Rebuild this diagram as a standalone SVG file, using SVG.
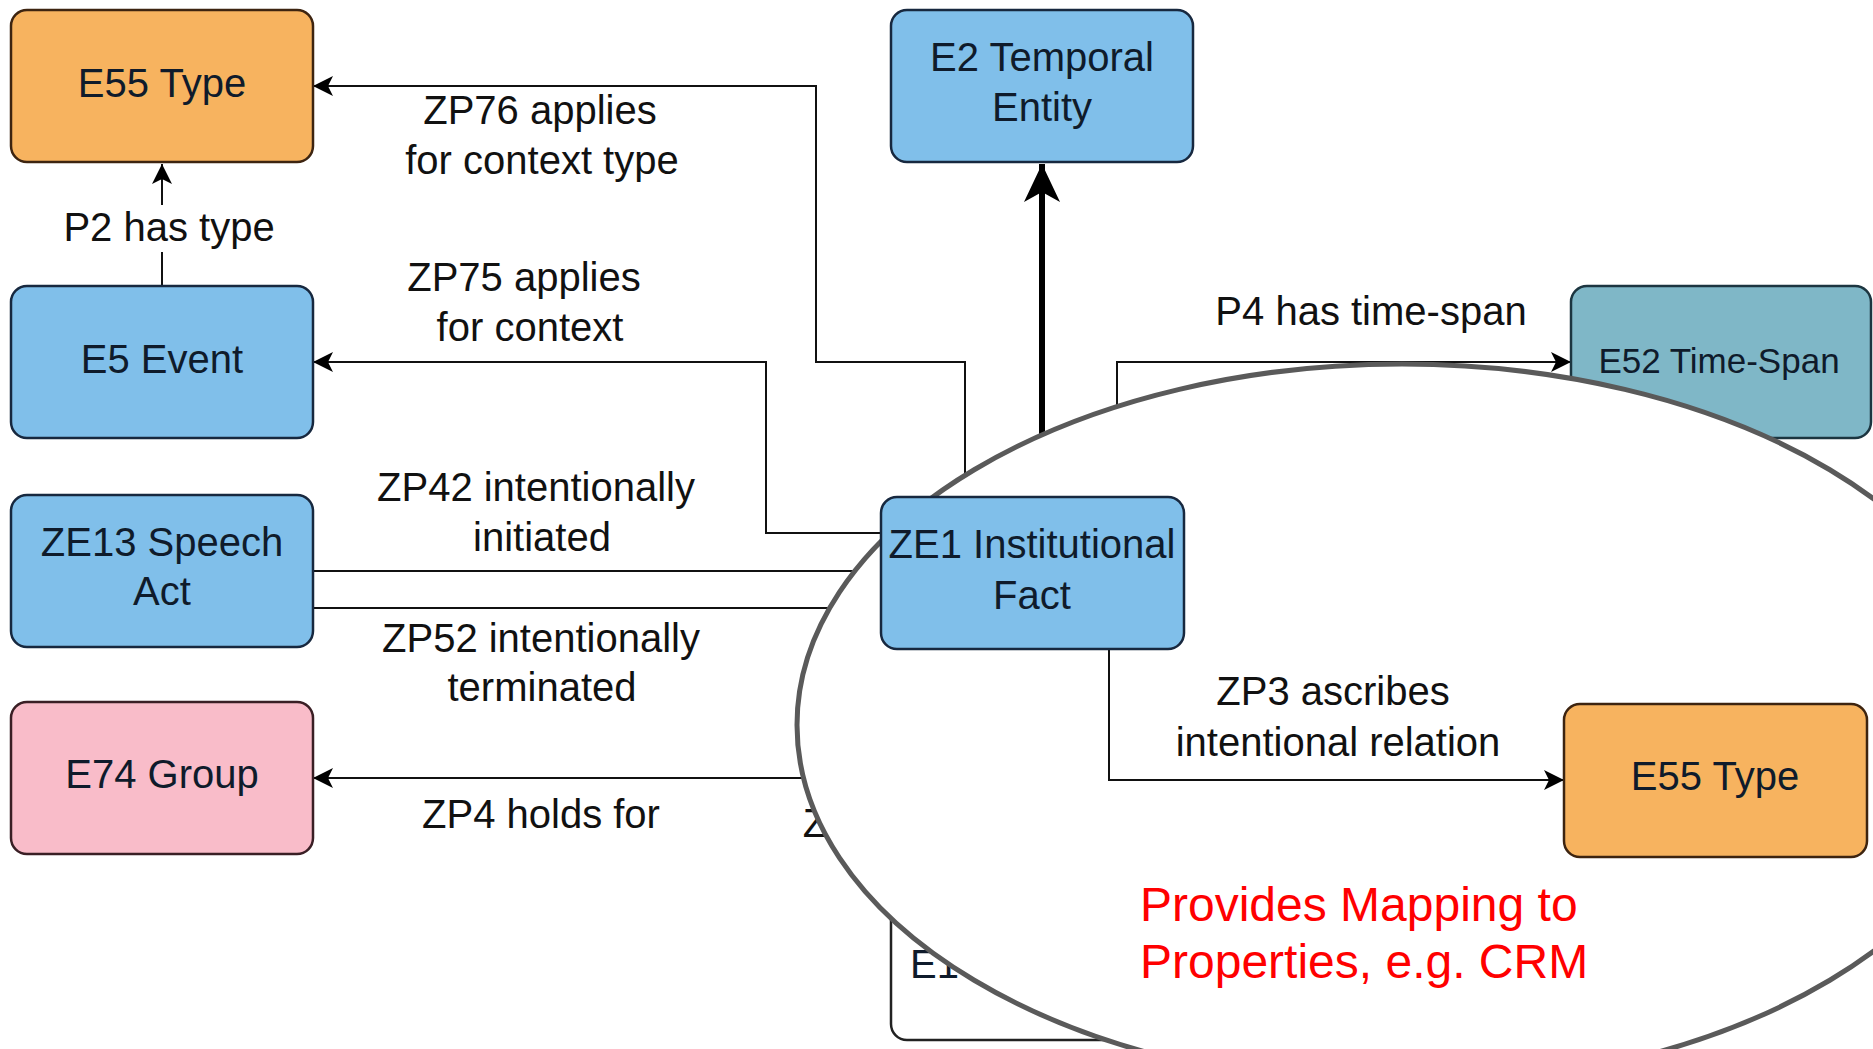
<svg xmlns="http://www.w3.org/2000/svg" width="1873" height="1049" viewBox="0 0 1873 1049">
<style>
text{font-family:"Liberation Sans",Arial,Helvetica,sans-serif;}
.nt{font-size:40px;fill:#0f1b2b;text-anchor:middle;}
.lt{font-size:40px;fill:#111;text-anchor:middle;}
.blue{fill:#80bfea;stroke:#17283f;stroke-width:2.5;}
.orange{fill:#f7b35f;stroke:#3d2410;stroke-width:2.5;}
.pink{fill:#f9bcc9;stroke:#3a1f25;stroke-width:2.5;}
.teal{fill:#7fb7c7;stroke:#1c3540;stroke-width:2.5;}
.white{fill:#fff;stroke:#222;stroke-width:2.5;}
.ln{fill:none;stroke:#111;stroke-width:2;}
.thick{fill:none;stroke:#000;stroke-width:6;}
</style>
<defs>
<marker id="arr" markerUnits="userSpaceOnUse" viewBox="-40 -20 40 40" markerWidth="40" markerHeight="40" refX="0" refY="0" orient="auto" overflow="visible">
<path d="M0,0 L-20,-10 L-15,0 L-20,10 Z" fill="#000"/>
</marker>
<marker id="arrBig" markerUnits="userSpaceOnUse" viewBox="-40 -20 40 40" markerWidth="40" markerHeight="40" refX="0" refY="0" orient="auto" overflow="visible">
<path d="M0,0 L-38,-18 L-28,0 L-38,18 Z" fill="#000"/>
</marker>
</defs>
<rect width="1873" height="1049" fill="#fff"/>

<g id="connectors">
<path class="ln" d="M965,497 V362 H816 V86 H313" marker-end="url(#arr)"/>
<path class="ln" d="M881,533 H766 V362 H313" marker-end="url(#arr)"/>
<path class="ln" d="M313,571 H881"/>
<path class="ln" d="M313,608 H881"/>
<path class="ln" d="M881,778 H313" marker-end="url(#arr)"/>
<path class="thick" d="M1042,497 V164" marker-end="url(#arrBig)"/>
<path class="ln" d="M1117,497 V362 H1571" marker-end="url(#arr)"/>
<path class="ln" d="M162,286 V164" marker-end="url(#arr)"/>
<rect x="60" y="205" width="220" height="47" fill="#fff"/>
<text class="lt" x="169" y="241">P2 has type</text>
<text class="lt"><tspan x="540" y="124">ZP76 applies</tspan><tspan x="542" y="174">for context type</tspan></text>
<text class="lt"><tspan x="524" y="291">ZP75 applies</tspan><tspan x="530" y="341">for context</tspan></text>
<text class="lt"><tspan x="536" y="501">ZP42 intentionally</tspan><tspan x="542" y="551">initiated</tspan></text>
<text class="lt"><tspan x="541" y="652">ZP52 intentionally</tspan><tspan x="542" y="701">terminated</tspan></text>
<text class="lt" x="541" y="828">ZP4 holds for</text>
<text class="lt" x="1371" y="325">P4 has time-span</text>
<text class="lt" x="815" y="837">Z</text>
</g>

<g id="E55_type_top"><rect class="orange" x="11" y="10" width="302" height="152" rx="16"/><text class="nt" x="162" y="97">E55 Type</text></g>
<g id="E2_temporal_entity"><rect class="blue" x="891" y="10" width="302" height="152" rx="16"/><text class="nt"><tspan x="1042" y="71">E2 Temporal</tspan><tspan x="1042" y="121">Entity</tspan></text></g>
<g id="E5_event"><rect class="blue" x="11" y="286" width="302" height="152" rx="16"/><text class="nt" x="162" y="373">E5 Event</text></g>
<g id="ZE13_speech_act"><rect class="blue" x="11" y="495" width="302" height="152" rx="16"/><text class="nt"><tspan x="162" y="556">ZE13 Speech</tspan><tspan x="162" y="605">Act</tspan></text></g>
<g id="E74_group"><rect class="pink" x="11" y="702" width="302" height="152" rx="16"/><text class="nt" x="162" y="788">E74 Group</text></g>
<g id="E52_time_span"><rect class="teal" x="1571" y="286" width="300" height="152" rx="16"/><text class="nt" style="font-size:35px" x="1719" y="373">E52 Time-Span</text></g>
<g id="E1_bottom"><rect class="white" x="891" y="889" width="302" height="151" rx="16"/><text class="nt" style="text-anchor:start" x="910" y="978">E1</text></g>

<g id="magnifier">
<ellipse cx="1402" cy="725" rx="605" ry="361" fill="#fff" stroke="#5a5a5a" stroke-width="5"/>
</g>

<g id="connectors_front">
<path class="ln" d="M1109,649 V780 H1564" marker-end="url(#arr)"/>
<text class="lt"><tspan x="1333" y="705">ZP3 ascribes</tspan><tspan x="1338" y="756">intentional relation</tspan></text>
</g>
<g id="ZE1_institutional_fact"><rect class="blue" x="881" y="497" width="303" height="152" rx="16"/><text class="nt"><tspan x="1032" y="558">ZE1 Institutional</tspan><tspan x="1032" y="609">Fact</tspan></text></g>
<g id="E55_type_right"><rect class="orange" x="1564" y="704" width="303" height="153" rx="16"/><text class="nt" x="1715" y="790">E55 Type</text></g>
<g id="note"><text style="font-size:48px;fill:#ff0000"><tspan x="1140" y="921">Provides Mapping to</tspan><tspan x="1140" y="978">Properties, e.g. CRM</tspan></text></g>
</svg>
